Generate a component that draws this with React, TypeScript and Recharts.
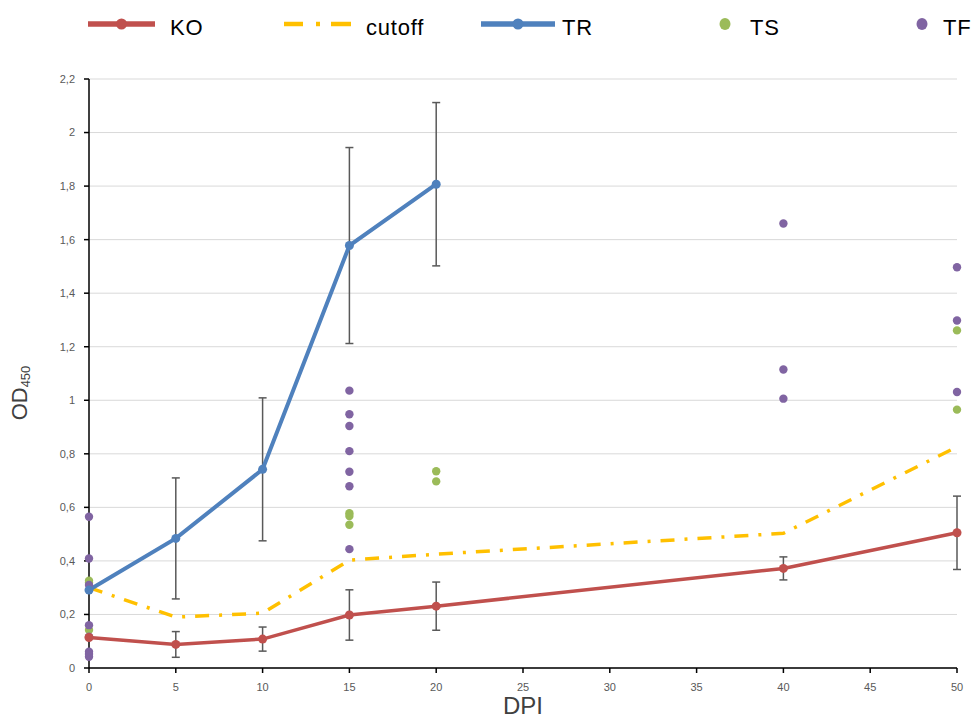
import React from "react";
import { ComposedChart, Line, Scatter, XAxis, YAxis, CartesianGrid, ErrorBar, Legend } from "recharts";

// Excel 2007 palette, as in the source sheet
const C = { ko: "#C0504D", cut: "#FFC000", tr: "#4F81BD", ts: "#9BBB59", tf: "#8064A2", err: "#595959" };

const dpi = [0, 5, 10, 15, 20, 40, 50];
const koMean = [0.114, 0.088, 0.108, 0.198, 0.231, 0.372, 0.505];
const koErr = [null, 0.048, 0.045, 0.094, 0.09, 0.043, 0.137];
const cutoffOd = [0.3, 0.19, 0.205, 0.403, 0.425, 0.503, 0.826];

const trDpi = [0, 5, 10, 15, 20];
const trMean = [0.291, 0.484, 0.742, 1.578, 1.807];
const trErr = [null, 0.226, 0.267, 0.366, 0.305];

const tsDpi = [0, 0, 0, 15, 15, 15, 20, 20, 50, 50];
const tsOd = [0.326, 0.318, 0.142, 0.578, 0.568, 0.535, 0.735, 0.697, 1.261, 0.965];

const tfDpi = [0, 0, 0, 0, 0, 0, 0, 0, 15, 15, 15, 15, 15, 15, 15, 40, 40, 40, 50, 50, 50];
const tfOd = [0.565, 0.409, 0.31, 0.16, 0.117, 0.061, 0.052, 0.042, 1.036, 0.948, 0.904, 0.81, 0.733, 0.679, 0.444, 1.66, 1.115, 1.006, 1.497, 1.298, 1.031];

const xTicks = [0, 5, 10, 15, 20, 25, 30, 35, 40, 45, 50];
const yTicks = [0, 0.2, 0.4, 0.6, 0.8, 1, 1.2, 1.4, 1.6, 1.8, 2, 2.2];
const xMinorTicks = Array.from({ length: 51 }, (_, i) => i);
const yMinorTicks = Array.from({ length: 56 }, (_, i) => (i * 4) / 100);

const koData = dpi.map((x, i) => ({ x, y: koMean[i], err: koErr[i] }));
const cutoffData = dpi.map((x, i) => ({ x, y: cutoffOd[i] }));
const trData = trDpi.map((x, i) => ({ x, y: trMean[i], err: trErr[i] }));
const tsData = tsDpi.map((x, i) => ({ x, y: tsOd[i] }));
const tfData = tfDpi.map((x, i) => ({ x, y: tfOd[i] }));

const FONT = "'Liberation Sans', Arial, sans-serif";
const comma = (v: number) => String(v).replace(".", ",");

const legendItems = [
  { name: "KO", kind: "line", color: C.ko, left: 88, w: 67, textLeft: 170 },
  { name: "cutoff", kind: "dash", color: C.cut, left: 284, w: 67, textLeft: 366 },
  { name: "TR", kind: "line", color: C.tr, left: 481, w: 74, textLeft: 562 },
  { name: "TS", kind: "dot", color: C.ts, left: 719, w: 12, textLeft: 750 },
  { name: "TF", kind: "dot", color: C.tf, left: 916, w: 12, textLeft: 943 },
];

function LegendIcon({ kind, color, w }: { kind: string; color: string; w: number }) {
  if (kind === "dot") return <ellipse cx={w / 2} cy={10} rx={5.5} ry={6} fill={color} />;
  if (kind === "dash")
    return (
      <g stroke={color} strokeWidth={4.5}>
        <line x1={0} y1={10} x2={19} y2={10} />
        <line x1={32} y1={10} x2={36} y2={10} />
        <line x1={47} y1={10} x2={67} y2={10} />
      </g>
    );
  return (
    <g>
      <line x1={0} y1={10} x2={w} y2={10} stroke={color} strokeWidth={5.5} />
      <circle cx={w / 2} cy={10} r={5.5} fill={color} />
    </g>
  );
}

function renderLegend() {
  return (
    <div style={{ position: "relative", width: 978, height: 56, fontFamily: FONT }}>
      {legendItems.map((it) => (
        <React.Fragment key={it.name}>
          <svg style={{ position: "absolute", left: it.left, top: 14 }} width={it.w} height={20}>
            <LegendIcon kind={it.kind} color={it.color} w={it.w} />
          </svg>
          <span style={{ position: "absolute", left: it.textLeft, top: 17, fontSize: 22, lineHeight: "22px", letterSpacing: 0.8, color: "#000" }}>
            {it.name}
          </span>
        </React.Fragment>
      ))}
    </div>
  );
}

function YTitle() {
  return (
    <text x={27} y={393} transform="rotate(-90 27 393)" textAnchor="middle" fill="#404040" fontFamily={FONT} fontSize={22}>
      <tspan>OD</tspan>
      <tspan fontSize={13} dy={3}>450</tspan>
    </text>
  );
}

const dotProps = (color: string) => ({ r: 4.5, fill: color, stroke: "none", strokeWidth: 0 });
const circleShape = (color: string) => (p: any) => <circle cx={p.cx} cy={p.cy} r={4.2} fill={color} />;
const emptyTick = () => <g />;
const axisStroke = { stroke: "#000", strokeWidth: 1.5 };

export default function App() {
  return (
    <div style={{ position: "absolute", left: 0, top: 0, width: 978, height: 718, background: "#fff", fontFamily: FONT }}>
      <ComposedChart width={978} height={718} margin={{ top: 79, right: 21, bottom: 0, left: 0 }}>
        <CartesianGrid vertical={false} stroke="#d9d9d9" strokeWidth={1} />
        <XAxis
          dataKey="x"
          type="number"
          domain={[0, 50]}
          ticks={xTicks}
          interval={0}
          height={50}
          tickSize={5}
          tickMargin={10}
          axisLine={axisStroke}
          tickLine={axisStroke}
          tick={{ fill: "#595959", fontSize: 11 }}
          label={{ value: "DPI", position: "insideBottom", offset: 4, style: { fill: "#404040", fontSize: 24, fontFamily: FONT } }}
        />
        <XAxis xAxisId="minor" dataKey="x" type="number" domain={[0, 50]} ticks={xMinorTicks} interval={0} mirror tickSize={4} axisLine={false} tickLine={{ stroke: "#000", strokeWidth: 1.2 }} tick={emptyTick} />
        <YAxis
          type="number"
          domain={[0, 2.2]}
          ticks={yTicks}
          interval={0}
          width={89}
          tickSize={5}
          tickMargin={9}
          axisLine={axisStroke}
          tickLine={axisStroke}
          tick={{ fill: "#595959", fontSize: 11 }}
          tickFormatter={comma}
          label={{ content: YTitle }}
        />
        <YAxis yAxisId="minor" type="number" domain={[0, 2.2]} ticks={yMinorTicks} interval={0} mirror tickSize={4} axisLine={false} tickLine={{ stroke: "#000", strokeWidth: 1.2 }} tick={emptyTick} />

        <Line data={koData} dataKey="y" name="KO" type="linear" stroke={C.ko} strokeWidth={3.5} dot={dotProps(C.ko)} activeDot={false} isAnimationActive={false}>
          <ErrorBar dataKey="err" direction="y" width={4} stroke={C.err} strokeWidth={1.5} />
        </Line>
        <Line data={cutoffData} dataKey="y" name="cutoff" type="linear" stroke={C.cut} strokeWidth={3.5} strokeDasharray="14 10 3 10" dot={false} activeDot={false} isAnimationActive={false} />
        <Line data={trData} dataKey="y" name="TR" type="linear" stroke={C.tr} strokeWidth={4} dot={dotProps(C.tr)} activeDot={false} isAnimationActive={false}>
          <ErrorBar dataKey="err" direction="y" width={4} stroke={C.err} strokeWidth={1.5} />
        </Line>
        <Scatter data={tsData} dataKey="y" name="TS" fill={C.ts} shape={circleShape(C.ts)} isAnimationActive={false} />
        <Scatter data={tfData} dataKey="y" name="TF" fill={C.tf} shape={circleShape(C.tf)} isAnimationActive={false} />

        <Legend content={renderLegend} layout="horizontal" verticalAlign="middle" wrapperStyle={{ top: 0, left: 0, width: 978, height: 56 }} />
      </ComposedChart>
    </div>
  );
}
